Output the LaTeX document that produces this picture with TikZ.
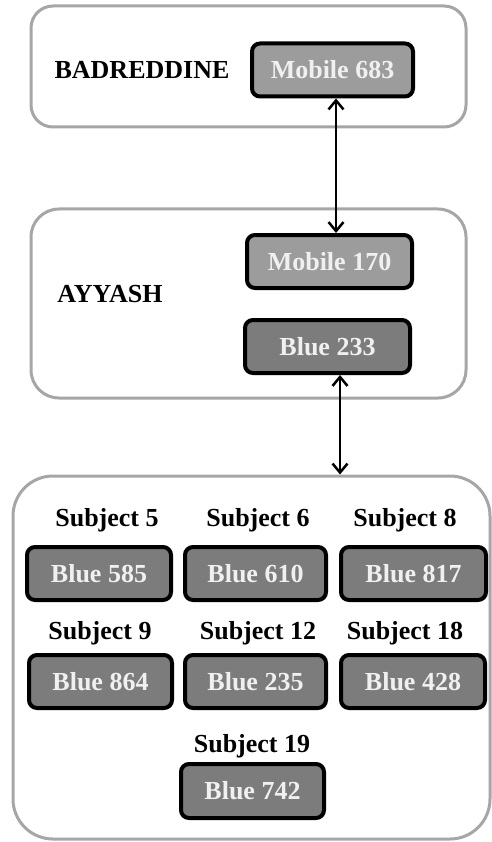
\documentclass[tikz,border=0pt]{standalone}
\usepackage{fontspec}
\setmainfont{Liberation Serif}
\usetikzlibrary{arrows.meta}
\definecolor{framegray}{HTML}{A6A6A6}
\definecolor{mobilefill}{HTML}{9C9C9C}
\definecolor{bluefill}{HTML}{7C7C7C}
\tikzset{
  container/.style={draw=framegray, line width=3pt, fill=white},
  keybox/.style={draw=black, line width=4pt, rounded corners=8pt, text=white!94!black,
    font=\fontsize{26}{30}\selectfont\bfseries, inner sep=0pt, minimum height=53pt},
  mobilebox/.style={keybox, fill=mobilefill},
  bluebox/.style={keybox, fill=bluefill},
  lbl/.style={font=\fontsize{26}{30}\selectfont\bfseries, text=black, inner sep=0pt},
  link/.style={line width=2.5pt, {Straight Barb[length=9pt,width=15pt,line width=2.5pt]}-{Straight Barb[length=9pt,width=15pt,line width=2.5pt]}}
}
\begin{document}
\begin{tikzpicture}[x=1pt,y=-1pt]
\useasboundingbox (0,0) rectangle (491,842);
% containers
\node[container, rounded corners=22pt, minimum width=435pt, minimum height=121pt] (topc) at (248.5,66.5) {};
\node[container, rounded corners=28pt, minimum width=435pt, minimum height=189pt] (midc) at (248.5,303.5) {};
\node[container, rounded corners=40pt, minimum width=477pt, minimum height=363pt] (botc) at (251.5,657.5) {};
% top
\node[lbl] (badr) at (142,70) {BADREDDINE};
\node[mobilebox, minimum width=161pt] (m683) at (332.5,70) {Mobile 683};
% middle
\node[lbl] (ayy) at (110,294) {AYYASH};
\node[mobilebox, minimum width=165pt] (m170) at (329.5,261.5) {Mobile 170};
\node[bluebox, minimum width=165pt] (b233) at (327.5,346.5) {Blue 233};
% bottom
\node[lbl] (s5) at (107,520) {Subject 5};
\node[lbl] (s6) at (258,520) {Subject 6};
\node[lbl] (s8) at (405,520) {Subject 8};
\node[bluebox, minimum width=144pt] (b585) at (99,573.5) {Blue 585};
\node[bluebox, minimum width=141pt] (b610) at (255.5,573.5) {Blue 610};
\node[bluebox, minimum width=145pt] (b817) at (413.5,573.5) {Blue 817};
\node[lbl] (s9) at (100,633) {Subject 9};
\node[lbl] (s12) at (258,633) {Subject 12};
\node[lbl] (s18) at (405,633) {Subject 18};
\node[bluebox, minimum width=143pt] (b864) at (100.5,681.5) {Blue 864};
\node[bluebox, minimum width=141pt] (b235) at (255.5,681.5) {Blue 235};
\node[bluebox, minimum width=144pt] (b428) at (413,681.5) {Blue 428};
\node[lbl] (s19) at (252,746) {Subject 19};
\node[bluebox, minimum width=143pt, minimum height=54pt] (b742) at (252.5,791) {Blue 742};
% connectors
\coordinate (ax1) at (336,0);
\coordinate (ax2) at (340,0);
\draw[link] (m683.south -| ax1) -- (m170.north -| ax1);
\draw[link] (b233.south -| ax2) -- (botc.north -| ax2);
\end{tikzpicture}
\end{document}
